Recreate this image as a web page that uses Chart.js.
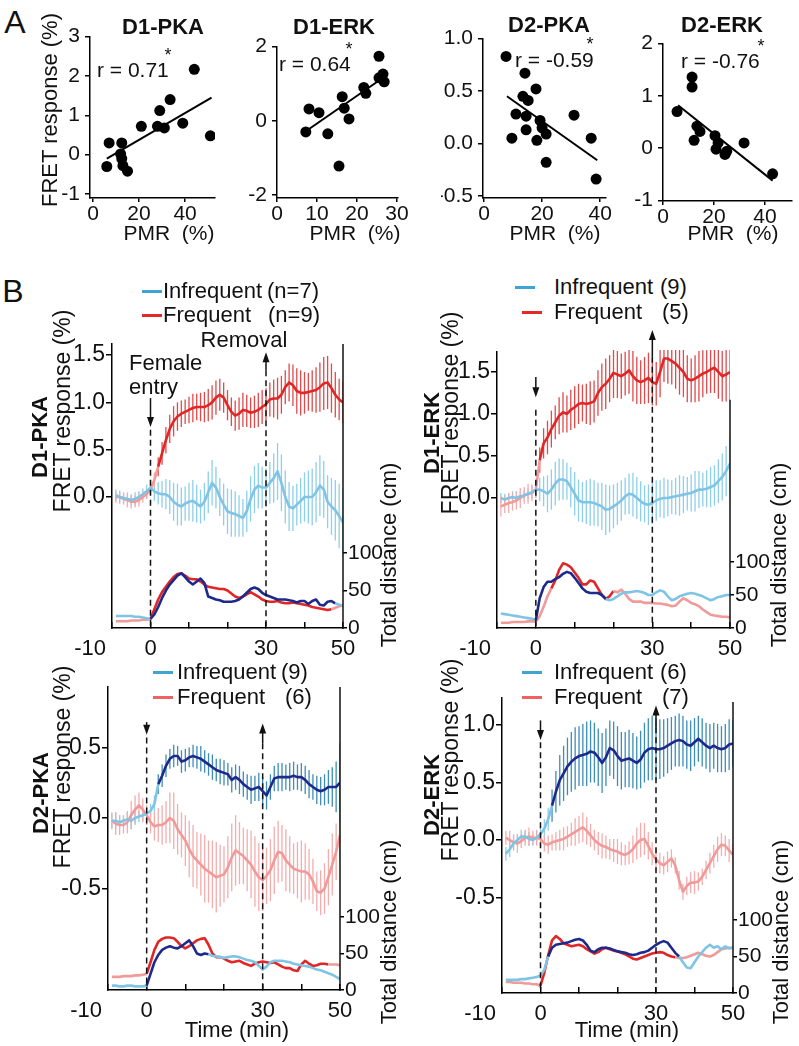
<!DOCTYPE html>
<html>
<head>
<meta charset="utf-8">
<script src="https://cdn.jsdelivr.net/npm/chart.js@4.4.0/dist/chart.umd.min.js"></script>
<style>
  body { margin: 0; background: #fff; width: 799px; height: 1046px; position: relative; overflow: hidden;
         font-family: "Liberation Sans", Arial, sans-serif; color: #111; }
  canvas { position: absolute; }
  .t { position: absolute; white-space: pre; line-height: 1; }
  .key { position: absolute; height: 3px; width: 20px; }
</style>
</head>
<body>
<script>
/********************
 * Panel A: scatter *
 ********************/
const d1pkaPmr  = [44, 33.5, 29, 39, 28, 31, 21, 51, 7, 12.5, 12, 12.5, 13, 6, 15];
const d1pkaFret = [2.17, 1.4, 1.12, 0.8, 0.72, 0.68, 0.72, 0.48, 0.3, 0.3, 0.02, -0.1, -0.28, -0.3, -0.42];
const d1pkaFitX = [6, 51.5];
const d1pkaFitY = [-0.1, 1.45];

const d1erkPmr  = [25.5, 26.5, 25.5, 26.8, 21.7, 22.2, 16.3, 16.8, 8, 10.5, 18, 7.2, 12.7, 15.5];
const d1erkFret = [1.74, 1.26, 1.16, 1.05, 0.9, 0.74, 0.65, 0.34, 0.32, 0.22, 0.05, -0.3, -0.35, -1.22];
const d1erkFitX = [7.2, 25.7];
const d1erkFitY = [-0.28, 1.1];

const d2pkaPmr  = [7.6, 14.1, 13.4, 15.2, 17.9, 11, 14.5, 19.3, 20, 21.4, 14.5, 9.6, 18.2, 21.4, 31, 36.9, 38.6];
const d2pkaFret = [0.83, 0.67, 0.45, 0.41, 0.52, 0.28, 0.26, 0.22, 0.15, 0.09, 0.13, 0.05, 0.03, -0.18, 0.27, 0.05, -0.34];
const d2pkaFitX = [7.9, 39];
const d2pkaFitY = [0.45, -0.16];

const d2erkPmr  = [5.5, 11.4, 11.4, 13.3, 14.5, 12.2, 20.4, 21.6, 20.8, 25, 24.3, 31.8, 43];
const d2erkFret = [0.7, 1.36, 1.17, 0.42, 0.32, 0.15, 0.24, 0.1, -0.02, -0.06, -0.12, 0.1, -0.49];
const d2erkFitX = [5.9, 43];
const d2erkFitY = [0.82, -0.62];

/****************************
 * Panel B: time courses    *
 * (one value per minute)   *
 ****************************/
const times = [-9, -8, -7, -6, -5, -4, -3, -2, -1,
  0, 1, 2, 3, 4, 5, 6, 7, 8, 9, 10,
  11, 12, 13, 14, 15, 16, 17, 18, 19, 20,
  21, 22, 23, 24, 25, 26, 27, 28, 29, 30,
  31, 32, 33, 34, 35, 36, 37, 38, 39, 40,
  41, 42, 43, 44, 45, 46, 47, 48, 49, 50];
const xTickValues = [-10, 0, 10, 20, 30, 40, 50];
const xTickLabelled = [0, 30, 50];
const xFirstLabel = '-10';
const distTicks = [0, 50, 100];

// D1-PKA
const d1pkaInfMean = [0.02, 0.0, -0.01, -0.02, -0.03, -0.02, 0.0, 0.03, 0.06,
  0.1, 0.06, 0.04, 0.03, 0.03, 0.0, -0.05, -0.08, -0.1, -0.07, -0.05,
  -0.04, -0.07, -0.1, -0.05, 0.05, 0.15, 0.1, 0.0, -0.08, -0.15,
  -0.17, -0.18, -0.2, -0.22, -0.15, -0.02, 0.08, 0.12, 0.1, 0.1,
  0.15, 0.2, 0.27, 0.15, 0.0, -0.1, -0.12, -0.08, -0.04, 0.0,
  0.0, 0.0, 0.05, 0.12, 0.08, -0.05, -0.1, -0.14, -0.2, -0.27];
const d1pkaInfErr = [0.06, 0.05, 0.06, 0.05, 0.06, 0.07, 0.06, 0.06, 0.07,
  0.08, 0.1, 0.12, 0.14, 0.16, 0.18, 0.2, 0.22, 0.2, 0.18, 0.2,
  0.22, 0.2, 0.18, 0.2, 0.22, 0.24, 0.22, 0.2, 0.22, 0.24,
  0.25, 0.24, 0.22, 0.2, 0.22, 0.24, 0.25, 0.24, 0.22, 0.2,
  0.22, 0.26, 0.3, 0.3, 0.28, 0.26, 0.24, 0.22, 0.24, 0.26,
  0.28, 0.3, 0.32, 0.32, 0.3, 0.28, 0.3, 0.32, 0.34, 0.36];
const d1pkaFreqMean = [0.0, 0.0, -0.02, -0.03, -0.05, -0.05, -0.03, 0.0, 0.03,
  0.08, 0.18, 0.32, 0.46, 0.6, 0.72, 0.8, 0.85, 0.88, 0.9, 0.92,
  0.94, 0.95, 0.95, 0.95, 0.97, 1.0, 1.05, 1.08, 1.05, 0.97,
  0.9, 0.86, 0.88, 0.92, 0.91, 0.89, 0.9, 0.92, 0.95, 0.98,
  1.03, 1.04, 1.04, 1.08, 1.16, 1.21, 1.18, 1.12, 1.1, 1.1,
  1.11, 1.12, 1.13, 1.16, 1.2, 1.21, 1.15, 1.08, 1.03, 1.0];
const d1pkaFreqErr = [0.06, 0.07, 0.06, 0.08, 0.07, 0.06, 0.07, 0.06, 0.05,
  0.05, 0.08, 0.1, 0.12, 0.14, 0.15, 0.16, 0.15, 0.14, 0.13, 0.14,
  0.15, 0.14, 0.15, 0.16, 0.17, 0.18, 0.18, 0.17, 0.16, 0.16,
  0.15, 0.16, 0.17, 0.18, 0.17, 0.16, 0.17, 0.18, 0.18, 0.17,
  0.18, 0.2, 0.22, 0.2, 0.18, 0.2, 0.22, 0.24, 0.24, 0.22,
  0.2, 0.22, 0.24, 0.26, 0.28, 0.28, 0.26, 0.24, 0.22, 0.22];
const d1pkaInfDist = [16, 16, 16, 16, 16, 15, 15, 14, 13,
  12, 18, 28, 40, 50, 58, 64, 70, 73, 68, 62,
  58, 62, 66, 60, 42, 40, 38, 37, 35, 35,
  35, 36, 38, 42, 47, 52, 54, 52, 47, 44,
  42, 40, 38, 38, 38, 37, 36, 34, 36, 36,
  32, 36, 38, 31, 30, 35, 36, 33, 31, 30];
const d1pkaFreqDist = [9, 9, 9, 9, 10, 10, 10, 11, 11,
  12, 25, 38, 48, 55, 62, 68, 72, 73, 70, 66,
  65, 65, 62, 58, 55, 54, 53, 52, 52, 50,
  46, 42, 40, 42, 45, 48, 45, 42, 38, 36,
  35, 35, 36, 34, 33, 33, 34, 33, 32, 31,
  30, 28, 27, 26, 25, 24, 25, 27, 29, 30];

// D1-ERK
const d1erkInfMean = [0.0, -0.02, 0.0, 0.01, 0.0, 0.02, 0.03, 0.05, 0.07,
  0.1, 0.1, 0.08, 0.05, 0.1, 0.17, 0.22, 0.22, 0.2, 0.13, 0.05,
  -0.03, -0.05, -0.05, -0.05, -0.06, -0.08, -0.1, -0.14, -0.13, -0.1,
  -0.07, -0.03, 0.02, 0.05, 0.04, 0.0, -0.04, -0.07, -0.08, -0.06,
  -0.03, -0.01, 0.0, 0.0, 0.01, 0.02, 0.03, 0.04, 0.05, 0.06,
  0.08, 0.1, 0.1, 0.11, 0.13, 0.15, 0.2, 0.25, 0.32, 0.41];
const d1erkInfErr = [0.06, 0.07, 0.06, 0.07, 0.08, 0.07, 0.06, 0.07, 0.08,
  0.1, 0.14, 0.18, 0.22, 0.24, 0.26, 0.25, 0.24, 0.22, 0.24, 0.26,
  0.25, 0.24, 0.26, 0.28, 0.27, 0.26, 0.28, 0.3, 0.28, 0.26,
  0.25, 0.24, 0.22, 0.24, 0.26, 0.25, 0.24, 0.22, 0.24, 0.25,
  0.24, 0.22, 0.24, 0.22, 0.2, 0.22, 0.24, 0.22, 0.2, 0.22,
  0.24, 0.22, 0.2, 0.22, 0.24, 0.24, 0.26, 0.28, 0.3, 0.33];
const d1erkFreqMean = [-0.1, -0.08, -0.06, -0.05, -0.03, 0.0, 0.03, 0.05, 0.06,
  0.1, 0.45, 0.65, 0.72, 0.82, 0.9, 0.98, 1.02, 1.0, 1.05, 1.08,
  1.12, 1.13, 1.12, 1.13, 1.15, 1.25, 1.32, 1.36, 1.42, 1.49,
  1.47, 1.45, 1.48, 1.52, 1.45, 1.4, 1.38, 1.4, 1.43, 1.38,
  1.36, 1.5, 1.66, 1.66, 1.63, 1.6, 1.55, 1.5, 1.42, 1.4,
  1.42, 1.45, 1.48, 1.5, 1.53, 1.55, 1.5, 1.45, 1.47, 1.5];
const d1erkFreqErr = [0.12, 0.1, 0.12, 0.1, 0.11, 0.12, 0.1, 0.12, 0.1,
  0.1, 0.15, 0.18, 0.2, 0.22, 0.2, 0.22, 0.24, 0.22, 0.24, 0.25,
  0.24, 0.22, 0.24, 0.26, 0.25, 0.27, 0.28, 0.3, 0.28, 0.3,
  0.28, 0.27, 0.26, 0.28, 0.3, 0.28, 0.26, 0.28, 0.3, 0.28,
  0.26, 0.3, 0.28, 0.3, 0.28, 0.3, 0.32, 0.3, 0.28, 0.26,
  0.28, 0.3, 0.28, 0.26, 0.28, 0.3, 0.32, 0.3, 0.32, 0.34];
const d1erkInfDist = [22, 21, 20, 19, 18, 17, 16, 15, 14,
  12, 45, 62, 70, 70, 74, 77, 82, 85, 83, 76,
  68, 60, 55, 53, 53, 53, 50, 44, 42, 44,
  48, 52, 54, 54, 55, 56, 55, 53, 50, 50,
  54, 57, 55, 48, 42, 44, 48, 50, 52, 53,
  52, 50, 48, 45, 42, 44, 47, 48, 50, 50];
const d1erkFreqDist = [8, 8, 8, 9, 9, 9, 9, 10, 10,
  10, 18, 32, 48, 60, 72, 88, 98, 96, 92, 84,
  76, 66, 66, 72, 70, 60, 50, 44, 48, 56,
  54, 58, 52, 44, 40, 40, 40, 38, 38, 38,
  37, 37, 36, 35, 33, 34, 40, 45, 42, 38,
  36, 33, 28, 24, 20, 19, 18, 17, 17, 16];

// D2-PKA
const d2pkaInfMean = [-0.02, -0.02, -0.03, -0.02, -0.01, -0.02, 0.0, 0.01, 0.02,
  0.03, 0.05, 0.1, 0.24, 0.3, 0.37, 0.42, 0.44, 0.44, 0.4, 0.41,
  0.43, 0.44, 0.43, 0.42, 0.4, 0.38, 0.36, 0.34, 0.33, 0.32,
  0.31, 0.27, 0.29, 0.27, 0.24, 0.22, 0.2, 0.21, 0.22, 0.19,
  0.16, 0.22, 0.28, 0.29, 0.29, 0.29, 0.29, 0.3, 0.29, 0.29,
  0.27, 0.24, 0.22, 0.2, 0.19, 0.2, 0.22, 0.22, 0.22, 0.25];
const d2pkaInfErr = [0.05, 0.06, 0.05, 0.04, 0.05, 0.06, 0.05, 0.04, 0.05,
  0.04, 0.05, 0.06, 0.07, 0.08, 0.08, 0.07, 0.08, 0.07, 0.08, 0.08,
  0.07, 0.08, 0.08, 0.09, 0.08, 0.08, 0.09, 0.08, 0.09, 0.09,
  0.08, 0.09, 0.09, 0.1, 0.09, 0.09, 0.1, 0.09, 0.1, 0.1,
  0.1, 0.09, 0.09, 0.1, 0.1, 0.09, 0.1, 0.1, 0.09, 0.1,
  0.1, 0.1, 0.09, 0.1, 0.1, 0.11, 0.12, 0.14, 0.18, 0.28];
const d2pkaFreqMean = [-0.02, -0.04, -0.05, -0.05, -0.03, 0.02, 0.06, 0.09, 0.06,
  0.02, -0.03, -0.06, -0.05, -0.05, -0.03, 0.0, -0.02, -0.08, -0.12, -0.16,
  -0.22, -0.27, -0.3, -0.33, -0.36, -0.38, -0.4, -0.42, -0.41, -0.4,
  -0.35, -0.28, -0.23, -0.25, -0.27, -0.3, -0.33, -0.38, -0.42, -0.44,
  -0.41, -0.37, -0.3, -0.24, -0.25, -0.3, -0.33, -0.36, -0.37, -0.38,
  -0.38, -0.4, -0.45, -0.52, -0.53, -0.5, -0.42, -0.33, -0.24, -0.12];
const d2pkaFreqErr = [0.06, 0.08, 0.07, 0.06, 0.08, 0.1, 0.1, 0.09, 0.08,
  0.07, 0.08, 0.1, 0.12, 0.14, 0.15, 0.18, 0.2, 0.18, 0.16, 0.18,
  0.2, 0.22, 0.2, 0.22, 0.24, 0.22, 0.24, 0.25, 0.22, 0.2,
  0.22, 0.24, 0.25, 0.22, 0.2, 0.22, 0.24, 0.25, 0.24, 0.22,
  0.2, 0.22, 0.24, 0.22, 0.2, 0.22, 0.2, 0.18, 0.2, 0.22,
  0.2, 0.18, 0.16, 0.14, 0.16, 0.18, 0.2, 0.22, 0.2, 0.18];
const d2pkaInfDist = [6, 6, 5, 5, 6, 6, 5, 5, 5,
  6, 22, 38, 48, 55, 58, 60, 58, 57, 60, 64,
  68, 60, 50, 48, 50, 49, 47, 46, 45, 44,
  45, 46, 46, 45, 43, 41, 40, 38, 33, 28,
  32, 38, 40, 40, 40, 39, 38, 36, 35, 34,
  33, 32, 30, 28, 27, 25, 23, 21, 18, 15];
const d2pkaFreqDist = [18, 18, 18, 19, 19, 19, 20, 20, 21,
  22, 38, 55, 66, 70, 72, 72, 71, 66, 60, 57,
  60, 64, 68, 70, 71, 62, 50, 45, 45, 43,
  40, 38, 39, 40, 37, 35, 33, 36, 38, 39,
  38, 37, 38, 35, 32, 30, 30, 27, 26, 35,
  40, 36, 33, 34, 36, 36, 35, 35, 35, 34];

// D2-ERK
const d2erkInfMean = [-0.12, -0.08, -0.03, 0.0, 0.03, 0.03, 0.01, 0.0, 0.02,
  0.05, 0.1, 0.18, 0.3, 0.42, 0.52, 0.58, 0.64, 0.68, 0.71, 0.73,
  0.74, 0.75, 0.77, 0.76, 0.72, 0.67, 0.72, 0.8, 0.78, 0.73,
  0.69, 0.7, 0.71, 0.69, 0.67, 0.7, 0.76, 0.79, 0.8, 0.79,
  0.79, 0.8, 0.82, 0.84, 0.86, 0.87, 0.86, 0.83, 0.82, 0.85,
  0.88, 0.85, 0.82, 0.8, 0.82, 0.8, 0.79, 0.8, 0.83, 0.84];
const d2erkInfErr = [0.06, 0.07, 0.06, 0.05, 0.06, 0.05, 0.06, 0.05, 0.06,
  0.06, 0.08, 0.1, 0.14, 0.18, 0.22, 0.24, 0.25, 0.26, 0.27, 0.26,
  0.27, 0.28, 0.27, 0.26, 0.25, 0.26, 0.25, 0.24, 0.25, 0.26,
  0.25, 0.24, 0.25, 0.24, 0.23, 0.25, 0.26, 0.27, 0.28, 0.27,
  0.26, 0.25, 0.24, 0.23, 0.22, 0.23, 0.22, 0.21, 0.22, 0.21,
  0.2, 0.21, 0.2, 0.21, 0.2, 0.21, 0.2, 0.21, 0.22, 0.2];
const d2erkFreqMean = [0.02, 0.0, -0.02, -0.03, -0.01, 0.02, 0.03, 0.02, 0.02,
  0.01, -0.03, -0.04, -0.02, -0.01, 0.0, 0.01, 0.03, 0.05, 0.07, 0.09,
  0.11, 0.08, 0.04, 0.0, -0.03, -0.05, -0.06, -0.08, -0.09, -0.1,
  -0.12, -0.13, -0.11, -0.08, -0.03, 0.0, 0.01, -0.05, -0.12, -0.17,
  -0.2, -0.22, -0.19, -0.16, -0.22, -0.35, -0.45, -0.4, -0.37, -0.37,
  -0.36, -0.32, -0.26, -0.2, -0.14, -0.08, -0.04, -0.05, -0.09, -0.13];
const d2erkFreqErr = [0.06, 0.08, 0.07, 0.08, 0.06, 0.07, 0.08, 0.06, 0.07,
  0.06, 0.07, 0.08, 0.07, 0.08, 0.09, 0.1, 0.09, 0.1, 0.12, 0.12,
  0.13, 0.12, 0.1, 0.09, 0.1, 0.11, 0.1, 0.09, 0.1, 0.11,
  0.1, 0.09, 0.1, 0.12, 0.14, 0.15, 0.14, 0.12, 0.1, 0.1,
  0.09, 0.08, 0.09, 0.08, 0.07, 0.08, 0.07, 0.08, 0.09, 0.1,
  0.08, 0.07, 0.08, 0.09, 0.1, 0.11, 0.1, 0.09, 0.1, 0.1];
const d2erkInfDist = [18, 18, 18, 18, 19, 19, 20, 21, 22,
  24, 32, 50, 62, 66, 67, 68, 69, 71, 73, 74,
  72, 66, 58, 56, 60, 62, 62, 61, 59, 57,
  56, 55, 53, 52, 53, 55, 56, 58, 62, 66,
  69, 71, 69, 62, 55, 50, 42, 35, 34, 42,
  50, 56, 62, 66, 62, 64, 60, 64, 61, 62];
const d2erkFreqDist = [15, 15, 14, 14, 14, 13, 13, 12, 12,
  10, 28, 52, 72, 78, 74, 68, 66, 64, 65, 66,
  64, 60, 57, 54, 56, 60, 62, 60, 58, 57,
  55, 53, 50, 47, 46, 48, 50, 52, 54, 55,
  56, 55, 52, 50, 49, 48, 48, 49, 51, 53,
  55, 53, 51, 50, 52, 56, 60, 61, 62, 62];

/**********
 * Styles *
 **********/
const NAVY = '#1d2a8c';
const LIGHT_BLUE = '#80c4e5';
const RED = '#e02626';
const PINK = '#f09a9a';
const TEAL_BAR = '#3d8db5';
const LIGHT_BLUE_BAR = '#8ecfea';
const RED_BAR = '#e04a4a';
const PINK_BAR = '#f4adad';
const FONT = '"Liberation Sans", Arial, sans-serif';

Chart.defaults.font.family = FONT;
Chart.defaults.color = '#111';

/********************
 * Helper functions *
 ********************/
function addCanvas(left, top, width, height) {
    const canvas = document.createElement('canvas');
    canvas.width = width;
    canvas.height = height;
    canvas.style.left = left + 'px';
    canvas.style.top = top + 'px';
    document.body.appendChild(canvas);
    return canvas;
}

function label(text, x, y, opts = {}) {
    const div = document.createElement('div');
    div.className = 't';
    div.textContent = text;
    div.style.fontSize = (opts.size || 22) + 'px';
    if (opts.bold) div.style.fontWeight = 'bold';
    let transform = opts.left ? 'translate(0,-50%)' : 'translate(-50%,-50%)';
    if (opts.rot) transform += ' rotate(-90deg)';
    div.style.left = x + 'px';
    div.style.top = y + 'px';
    div.style.transform = transform;
    document.body.appendChild(div);
}

function legendKey(x, y, color) {
    const div = document.createElement('div');
    div.className = 'key';
    div.style.left = x + 'px';
    div.style.top = (y - 1.5) + 'px';
    div.style.background = color;
    document.body.appendChild(div);
}

function inRanges(t, ranges) {
    return ranges.some(([a, b]) => t >= a && t <= b);
}

function drawArrow(ctx, x, yTail, yHead) {
    const dir = yHead > yTail ? 1 : -1;
    ctx.beginPath();
    ctx.moveTo(x, yTail);
    ctx.lineTo(x, yHead - dir * 6);
    ctx.stroke();
    ctx.beginPath();
    ctx.moveTo(x, yHead);
    ctx.lineTo(x - 3.5, yHead - dir * 10);
    ctx.lineTo(x + 3.5, yHead - dir * 10);
    ctx.closePath();
    ctx.fill();
}

/**
 * Error bars (before lines), then arrows, dashed markers, the right axis line
 * and the first time label (it sits left of the axis in the original).
 */
const decorPlugin = {
    id: 'decor',
    beforeDatasetsDraw(chart) {
        const ctx = chart.ctx;
        const area = chart.chartArea;
        ctx.save();
        ctx.beginPath();
        ctx.rect(area.left, area.top - 2, area.right - area.left, area.bottom - area.top + 2);
        ctx.clip();
        ctx.lineWidth = 1.3;
        chart.data.datasets.forEach((ds, i) => {
            if (!ds.errors) return;
            const meta = chart.getDatasetMeta(i);
            const scale = chart.scales[ds.yAxisID];
            meta.data.forEach((pt, j) => {
                const v = ds.data[j].y, e = ds.errors[j];
                ctx.strokeStyle = ds.errColor(ds.data[j].x);
                ctx.beginPath();
                ctx.moveTo(pt.x, scale.getPixelForValue(v - e));
                ctx.lineTo(pt.x, scale.getPixelForValue(v + e));
                ctx.stroke();
            });
        });
        ctx.restore();
    },
    afterDraw(chart, args, opts) {
        const ctx = chart.ctx;
        const area = chart.chartArea;
        const xs = chart.scales.x, ys = chart.scales.y;
        ctx.save();
        ctx.strokeStyle = '#111';
        ctx.fillStyle = '#111';
        ctx.lineWidth = 1.5;
        (opts.marks || []).forEach(m => {
            const x = xs.getPixelForValue(m.t);
            drawArrow(ctx, x, ys.getPixelForValue(m.tail), ys.getPixelForValue(m.head));
            ctx.setLineDash([6, 4]);
            ctx.beginPath();
            ctx.moveTo(x, ys.getPixelForValue(m.dash));
            ctx.lineTo(x, area.bottom);
            ctx.stroke();
            ctx.setLineDash([]);
        });
        if (opts.rightTop !== undefined) {
            ctx.beginPath();
            ctx.moveTo(area.right, Math.max(ys.getPixelForValue(opts.rightTop), area.top));
            ctx.lineTo(area.right, area.bottom + 0.75);
            ctx.stroke();
        }
        ctx.font = '22px ' + FONT;
        ctx.textAlign = 'right';
        ctx.textBaseline = 'middle';
        ctx.fillText(xFirstLabel, area.left - 6, area.bottom + 21);
        ctx.restore();
    }
};

/**
 * Scatter plot of panel A.
 */
function drawScatter(p) {
    const padL = 42, padR = 22, padT = 14, padB = 30;
    const b = p.box;
    const canvas = addCanvas(b.left - padL, b.top - padT,
        padL + b.right - b.left + padR, padT + b.bottom - b.top + padB);
    new Chart(canvas, {
        type: 'scatter',
        data: {
            datasets: [
                {
                    data: p.pmr.map((x, i) => ({x: x, y: p.fret[i]})),
                    pointRadius: 5.5,
                    pointBackgroundColor: '#000',
                    pointBorderWidth: 0
                },
                {
                    type: 'line',
                    data: p.fitX.map((x, i) => ({x: x, y: p.fitY[i]})),
                    borderColor: '#000',
                    borderWidth: 2,
                    pointRadius: 0
                }
            ]
        },
        options: {
            responsive: false,
            animation: false,
            events: [],
            layout: {padding: {top: padT, right: padR, left: 0, bottom: 0}},
            plugins: {legend: {display: false}, tooltip: {enabled: false}},
            scales: {
                x: {
                    type: 'linear', min: p.x[0], max: p.x[1],
                    afterBuildTicks: s => { s.ticks = p.xTicks.map(v => ({value: v})); },
                    afterFit: s => { s.height = padB; },
                    grid: {drawOnChartArea: false, color: '#000', lineWidth: 1.5, tickLength: 4},
                    border: {color: '#000', width: 1.5},
                    ticks: {font: {size: 21}, color: '#111', padding: 0, maxRotation: 0}
                },
                y: {
                    type: 'linear', min: p.y[0], max: p.y[1],
                    afterBuildTicks: s => { s.ticks = p.yTicks.map(v => ({value: v})); },
                    afterFit: s => { s.width = padL; },
                    grid: {drawOnChartArea: false, color: '#000', lineWidth: 1.5, tickLength: 5},
                    border: {color: '#000', width: 1.5},
                    ticks: {font: {size: 21}, color: '#111', padding: 5,
                        callback: v => v.toFixed(p.decimals)}
                }
            }
        }
    });
}

/**
 * Time course of panel B: FRET (left axis) and total distance (right axis).
 */
function drawTimeCourse(p) {
    const Lw = 48, Rw = 45, padT = 44, Hx = 36;
    const b = p.box;
    const canvas = addCanvas(b.left - Lw - 20, b.top - padT,
        20 + Lw + b.right - b.left + Rw, padT + b.bottom - b.top + Hx);
    const points = values => times.map((t, i) => ({x: t, y: values[i]}));
    const segment = (ranges, dark, light) => ({
        borderColor: c => (inRanges(c.p0.parsed.x, ranges) && inRanges(c.p1.parsed.x, ranges)) ? dark : light
    });
    const lineStyle = {borderWidth: 2.6, pointRadius: 0, borderJoinStyle: 'round', tension: 0};

    new Chart(canvas, {
        type: 'line',
        data: {
            datasets: [
                Object.assign({
                    data: points(p.infMean), yAxisID: 'y', borderColor: LIGHT_BLUE,
                    errors: p.infErr,
                    errColor: t => inRanges(t, p.dark.infFret) ? TEAL_BAR : LIGHT_BLUE_BAR,
                    segment: segment(p.dark.infFret, NAVY, LIGHT_BLUE)
                }, lineStyle),
                Object.assign({
                    data: points(p.freqMean), yAxisID: 'y', borderColor: PINK,
                    errors: p.freqErr,
                    errColor: t => inRanges(t, p.dark.freqFret) ? RED_BAR : PINK_BAR,
                    segment: segment(p.dark.freqFret, RED, PINK)
                }, lineStyle),
                Object.assign({
                    data: points(p.infDist), yAxisID: 'y2', borderColor: LIGHT_BLUE,
                    segment: segment(p.dark.infDist, NAVY, LIGHT_BLUE)
                }, lineStyle),
                Object.assign({
                    data: points(p.freqDist), yAxisID: 'y2', borderColor: PINK,
                    segment: segment(p.dark.freqDist, RED, PINK)
                }, lineStyle)
            ]
        },
        options: {
            responsive: false,
            animation: false,
            events: [],
            layout: {padding: {top: padT, left: 20, right: 0, bottom: 0}},
            plugins: {
                legend: {display: false},
                tooltip: {enabled: false},
                decor: {marks: p.marks, rightTop: p.rightTop}
            },
            scales: {
                x: {
                    type: 'linear', min: -10, max: 50,
                    afterBuildTicks: s => { s.ticks = xTickValues.map(v => ({value: v})); },
                    afterFit: s => { s.height = Hx; },
                    grid: {drawOnChartArea: false, color: '#000', lineWidth: 1.5, tickLength: -6},
                    border: {color: '#000', width: 1.5},
                    ticks: {font: {size: 22}, color: '#111', padding: 14, maxRotation: 0, autoSkip: false,
                        callback: v => xTickLabelled.includes(v) ? String(v) : ''}
                },
                y: {
                    type: 'linear', position: 'left', min: p.fret[0], max: p.fret[1],
                    afterBuildTicks: s => { s.ticks = p.fretTicks.map(v => ({value: v})); },
                    afterFit: s => { s.width = Lw; },
                    grid: {drawOnChartArea: false, color: '#000', lineWidth: 1.5, tickLength: 6},
                    border: {color: '#000', width: 1.5},
                    ticks: {font: {size: 23}, color: '#111', padding: 1, callback: v => v.toFixed(1)}
                },
                y2: {
                    type: 'linear', position: 'right', min: 0, max: p.distMax,
                    afterBuildTicks: s => { s.ticks = distTicks.map(v => ({value: v})); },
                    afterFit: s => { s.width = Rw; },
                    grid: {drawOnChartArea: false, color: '#000', lineWidth: 1.5, tickLength: 4},
                    border: {display: false},
                    ticks: {font: {size: 21}, color: '#111', padding: 1}
                }
            }
        },
        plugins: [decorPlugin]
    });
}

/**********
 * Panels *
 **********/
drawScatter({box: {left: 90, right: 215, top: 33, bottom: 198}, x: [-1.3, 53], y: [-1.1, 3],
    xTicks: [0, 20, 40], yTicks: [-1, 0, 1, 2, 3], decimals: 0,
    pmr: d1pkaPmr, fret: d1pkaFret, fitX: d1pkaFitX, fitY: d1pkaFitY});
drawScatter({box: {left: 277, right: 398, top: 43, bottom: 198}, x: [0, 30.25], y: [-2.08, 2],
    xTicks: [0, 10, 20, 30], yTicks: [-2, 0, 2], decimals: 0,
    pmr: d1erkPmr, fret: d1erkFret, fitX: d1erkFitX, fitY: d1erkFitY});
drawScatter({box: {left: 483, right: 606, top: 35, bottom: 198}, x: [-0.34, 42], y: [-0.52, 1],
    xTicks: [0, 20, 40], yTicks: [-0.5, 0, 0.5, 1], decimals: 1,
    pmr: d2pkaPmr, fret: d2pkaFret, fitX: d2pkaFitX, fitY: d2pkaFitY});
drawScatter({box: {left: 663, right: 792, top: 40, bottom: 201}, x: [0, 50.6], y: [-1.01, 2],
    xTicks: [0, 20, 40], yTicks: [-1, 0, 1, 2], decimals: 0,
    pmr: d2erkPmr, fret: d2erkFret, fitX: d2erkFitX, fitY: d2erkFitY});

drawTimeCourse({
    box: {left: 112, right: 343, top: 344, bottom: 628}, fret: [-1.383, 1.616], distMax: 379,
    fretTicks: [0, 0.5, 1, 1.5],
    infMean: d1pkaInfMean, infErr: d1pkaInfErr, freqMean: d1pkaFreqMean, freqErr: d1pkaFreqErr,
    infDist: d1pkaInfDist, freqDist: d1pkaFreqDist,
    dark: {infFret: [], freqFret: [[2, 50]], infDist: [[0, 48]], freqDist: [[0, 47]]},
    marks: [{t: 0, tail: 1.045, head: 0.74, dash: 0.71}, {t: 30, tail: 1.34, head: 1.53, dash: 1.34}],
    rightTop: 1.616
});
drawTimeCourse({
    box: {left: 497, right: 730, top: 352, bottom: 628}, fret: [-1.548, 1.738], distMax: 418,
    fretTicks: [0, 0.5, 1, 1.5],
    infMean: d1erkInfMean, infErr: d1erkInfErr, freqMean: d1erkFreqMean, freqErr: d1erkFreqErr,
    infDist: d1erkInfDist, freqDist: d1erkFreqDist,
    dark: {infFret: [], freqFret: [[1, 50]], infDist: [[0, 18]], freqDist: [[4, 20]]},
    marks: [{t: 0, tail: 1.44, head: 1.2, dash: 1.05}, {t: 30, tail: 1.68, head: 2.0, dash: 1.68}],
    rightTop: 1.17
});
drawTimeCourse({
    box: {left: 108, right: 340, top: 687, bottom: 990}, fret: [-1.22, 0.929], distMax: 415,
    fretTicks: [-0.5, 0, 0.5],
    infMean: d2pkaInfMean, infErr: d2pkaInfErr, freqMean: d2pkaFreqMean, freqErr: d2pkaFreqErr,
    infDist: d2pkaInfDist, freqDist: d2pkaFreqDist,
    dark: {infFret: [[3, 50]], freqFret: [], infDist: [[0, 16]], freqDist: [[0, 47]]},
    marks: [{t: 0, tail: 0.68, head: 0.59, dash: 0.57}, {t: 30, tail: 0.53, head: 0.67, dash: 0.53}],
    rightTop: 0.929
});
drawTimeCourse({
    box: {left: 502, right: 733, top: 698, bottom: 993}, fret: [-1.33, 1.235], distMax: 404,
    fretTicks: [-0.5, 0, 0.5, 1],
    infMean: d2erkInfMean, infErr: d2erkInfErr, freqMean: d2erkFreqMean, freqErr: d2erkFreqErr,
    infDist: d2erkInfDist, freqDist: d2erkFreqDist,
    dark: {infFret: [[3, 50]], freqFret: [], infDist: [[2, 36]], freqDist: [[0, 35]]},
    marks: [{t: 0, tail: 1.04, head: 0.87, dash: 0.85}, {t: 30, tail: 0.98, head: 1.17, dash: 0.98}],
    rightTop: 1.2
});

/*********
 * Texts *
 *********/
label('A', 15, 22, {size: 32});
label('B', 13, 291, {size: 32});

label('FRET response (%)', 50, 110, {size: 22, rot: true});
label('D1-PKA', 163, 27, {size: 22, bold: true});
label('D1-ERK', 334, 27, {size: 22, bold: true});
label('D2-PKA', 549, 25, {size: 22, bold: true});
label('D2-ERK', 722, 25, {size: 22, bold: true});
label('r = 0.71', 97, 69, {size: 21, left: true});
label('*', 168, 55, {size: 18});
label('r = 0.64', 279, 63, {size: 21, left: true});
label('*', 349, 49, {size: 18});
label('r = -0.59', 515, 59, {size: 21, left: true});
label('*', 590, 44, {size: 18});
label('r = -0.76', 681, 60, {size: 21, left: true});
label('*', 761, 46, {size: 18});
label('PMR  (%)', 169, 232, {size: 21});
label('PMR  (%)', 355, 232, {size: 21});
label('PMR  (%)', 555, 232, {size: 21});
label('PMR  (%)', 733, 232, {size: 21});

// D1-PKA
legendKey(142, 291, '#3fa3d6');
label('Infrequent', 163, 291, {left: true});
label('(n=7)', 267, 291, {left: true});
legendKey(142, 315, '#e02a2a');
label('Frequent', 163, 315, {left: true});
label('(n=9)', 268, 315, {left: true});
label('Removal', 244, 340);
label('Female', 129, 363, {left: true});
label('entry', 129, 387, {left: true});
label('D1-PKA', 40, 437, {bold: true, rot: true});
label('FRET response (%)', 62, 411, {size: 23, rot: true});
label('Total distance (cm)', 389, 555, {rot: true});

// D1-ERK
legendKey(515, 287, '#3fa3d6');
label('Infrequent', 554, 287, {left: true});
label('(9)', 660, 287, {left: true});
legendKey(522, 312, '#e02a2a');
label('Frequent', 554, 312, {left: true});
label('(5)', 662, 312, {left: true});
label('D1-ERK', 432, 433, {bold: true, rot: true});
label('FRET response (%)', 450, 413, {size: 23, rot: true});
label('Total distance (cm)', 779, 555, {rot: true});

// D2-PKA
legendKey(153, 672, '#3fa3d6');
label('Infrequent', 177, 672, {left: true});
label('(9)', 281, 672, {left: true});
legendKey(153, 697, '#ef6262');
label('Frequent', 177, 697, {left: true});
label('(6)', 285, 697, {left: true});
label('D2-PKA', 41, 793, {bold: true, rot: true});
label('FRET response (%)', 62, 767, {size: 23, rot: true});
label('Total distance (cm)', 389, 932, {rot: true});
label('Time (min)', 237, 1030);

// D2-ERK
legendKey(522, 672, '#3fa3d6');
label('Infrequent', 554, 672, {left: true});
label('(6)', 660, 672, {left: true});
legendKey(522, 697, '#ef6262');
label('Frequent', 554, 697, {left: true});
label('(7)', 662, 697, {left: true});
label('D2-ERK', 432, 795, {bold: true, rot: true});
label('FRET response (%)', 450, 760, {size: 23, rot: true});
label('Total distance (cm)', 781, 932, {rot: true});
label('Time (min)', 627, 1030);
</script>
</body>
</html>
